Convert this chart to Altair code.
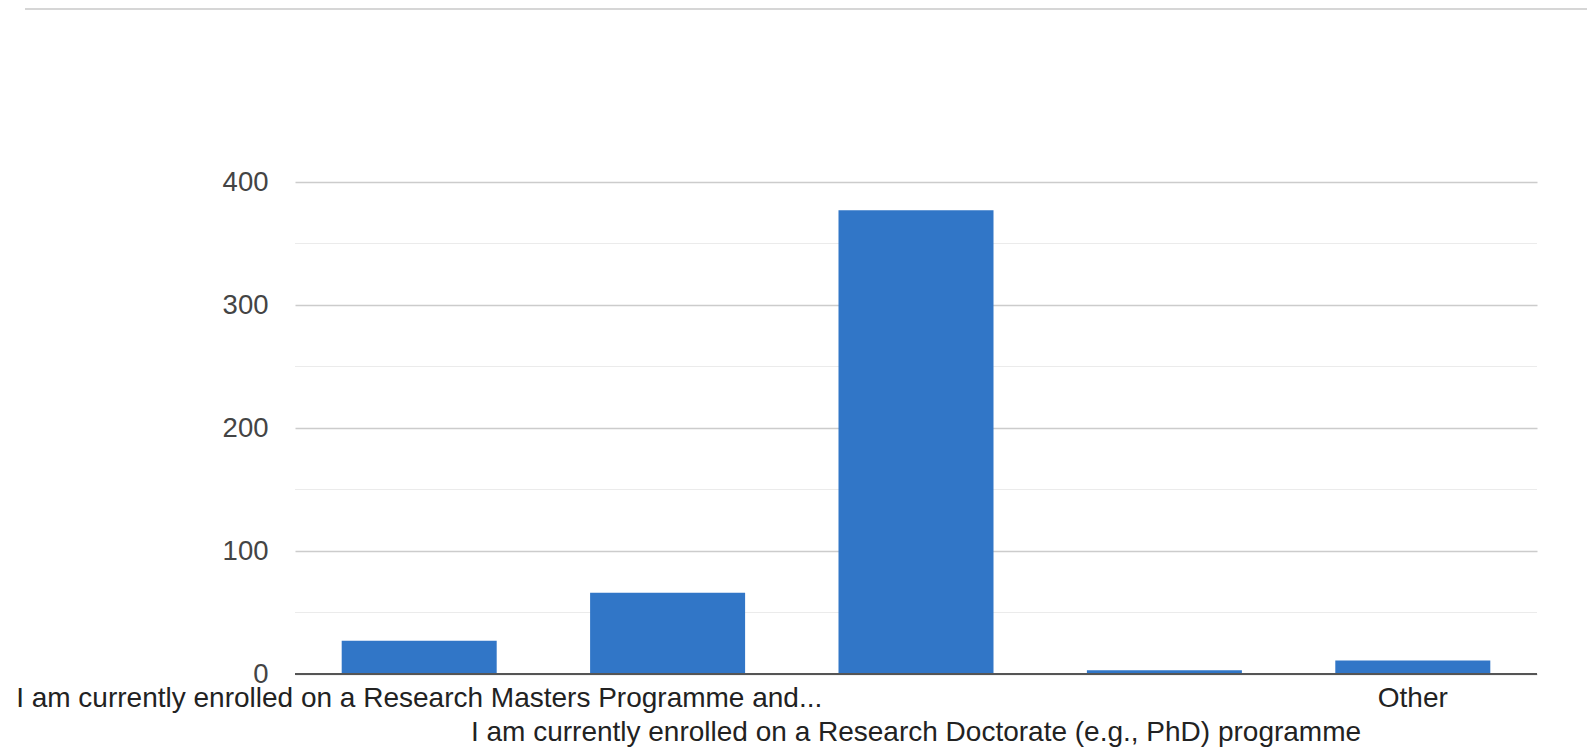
import altair as alt
import pandas as pd

categories = [
    "I am currently enrolled on a Research Masters Programme and...",
    "Category 2",
    "I am currently enrolled on a Research Doctorate (e.g., PhD) programme",
    "Category 4",
    "Other",
]
counts = [27, 66, 377, 3, 11]
label_rows = [1, 0, 2, 0, 1]  # 0 = label hidden
y_ticks = [0, 100, 200, 300, 400]
minor_ticks = [50, 150, 250, 350]

df = pd.DataFrame({"category": categories, "count": counts, "row": label_rows})
minor_df = pd.DataFrame({"v": minor_ticks})

W, H = 1242, 492
FONT = "Liberation Sans"
BAR = "#3176C7"

x_scale = alt.Scale(domain=categories, paddingInner=0.376, paddingOuter=0.188)
y_scale = alt.Scale(domain=[0, 400], nice=False)

base = alt.Chart(df)

minor = alt.Chart(minor_df).mark_rule(color="#ebebeb", strokeWidth=1.2).encode(
    y=alt.Y("v:Q", scale=y_scale),
    x=alt.value(0),
    x2=alt.value(W),
)

bars = base.mark_bar(color=BAR).encode(
    x=alt.X("category:N", scale=x_scale, sort=None,
            axis=alt.Axis(labels=False, ticks=False, domain=False, title=None, grid=False)),
    y=alt.Y("count:Q", scale=y_scale,
            axis=alt.Axis(values=y_ticks, title=None, domain=False, ticks=False,
                          labelPadding=27, labelFontSize=27.5, labelFont=FONT,
                          labelColor="#444444", gridColor="#cccccc", gridWidth=1.3)),
)

baseline = alt.Chart(pd.DataFrame({"z": [0]})).mark_rule(color="#555555", strokeWidth=2.2).encode(
    y=alt.Y("z:Q", scale=y_scale),
    x=alt.value(0),
    x2=alt.value(W),
)

lab1 = base.transform_filter(alt.datum.row == 1).mark_text(
    font=FONT, fontSize=28, color="#222222", baseline="middle", align="center"
).encode(x=alt.X("category:N", scale=x_scale, sort=None), y=alt.value(H + 25), text="category:N")

lab2 = base.transform_filter(alt.datum.row == 2).mark_text(
    font=FONT, fontSize=28, color="#222222", baseline="middle", align="center"
).encode(x=alt.X("category:N", scale=x_scale, sort=None), y=alt.value(H + 59), text="category:N")

topline = alt.Chart(pd.DataFrame({"z": [0]})).mark_rule(color="#d6d6d6", strokeWidth=2).encode(
    y=alt.value(-173),
    x=alt.value(-270),
    x2=alt.value(W + 60),
)

chart = alt.layer(minor, bars, baseline, lab1, lab2, topline).properties(
    width=W, height=H,
    background="white",
    autosize=alt.AutoSizeParams(type="none"),
    padding={"left": 287, "top": 174, "right": 50, "bottom": 78},
).configure_view(stroke=None)

chart.save("out.html", embed_options={"renderer": "svg", "actions": False})
